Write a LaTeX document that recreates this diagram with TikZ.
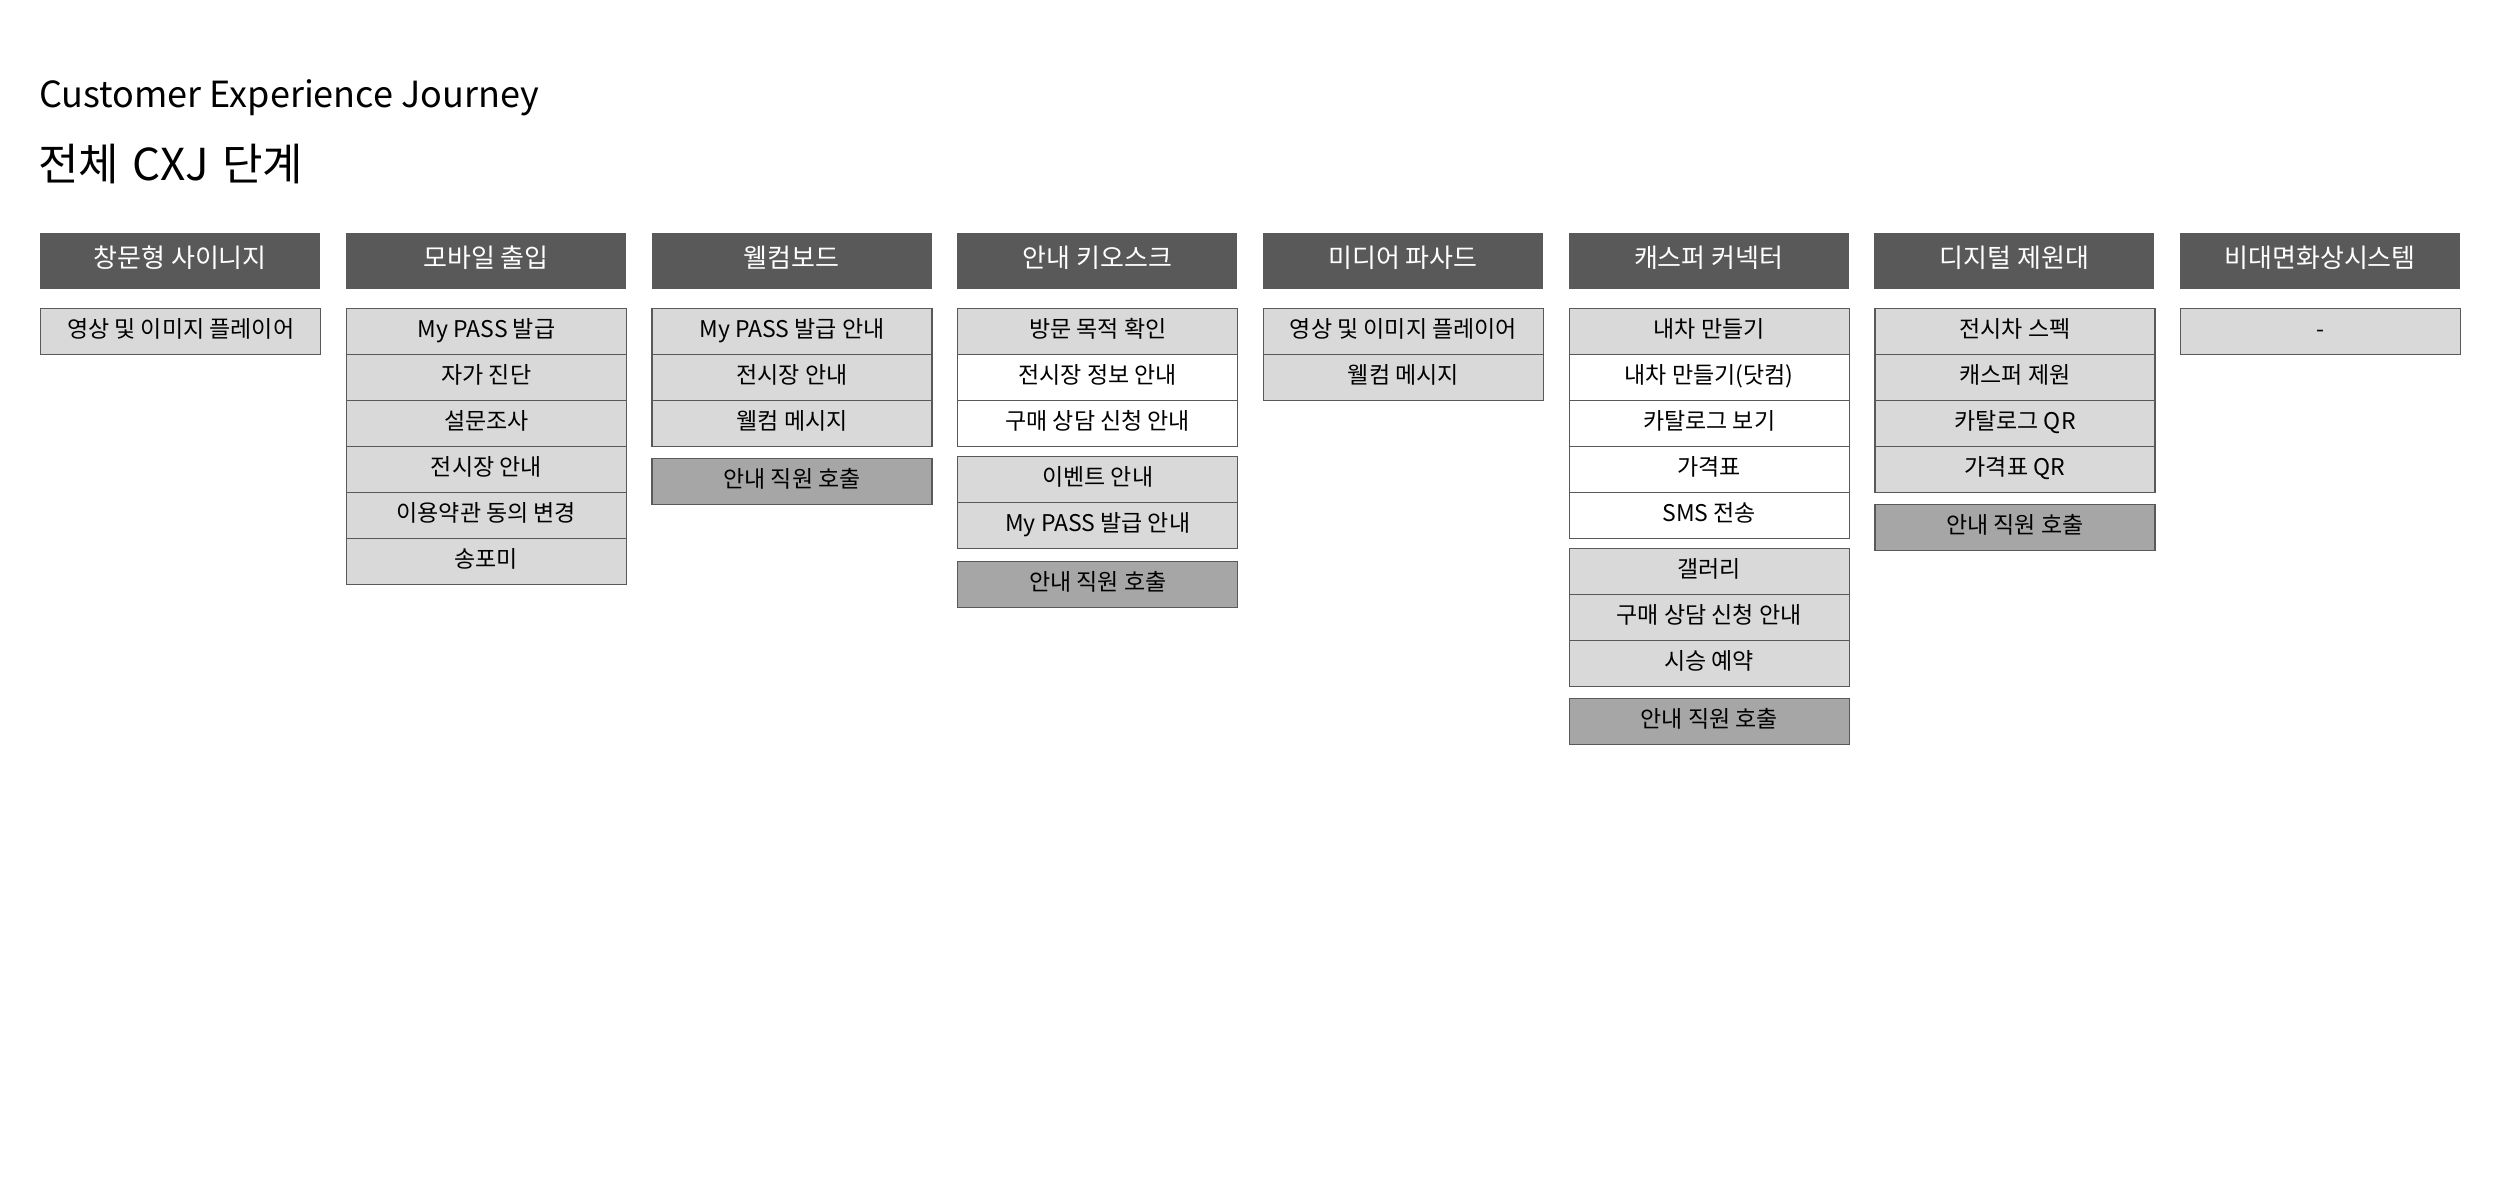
\documentclass[tikz,border=0pt]{standalone}
\usepackage{fontspec}
\setmainfont{Noto Sans CJK KR}
\definecolor{hdr}{HTML}{595959}
\definecolor{itemgray}{HTML}{D9D9D9}
\definecolor{callgray}{HTML}{A6A6A6}
\definecolor{edge}{HTML}{595959}
\tikzset{
  header/.style={anchor=north west, fill=hdr, draw=none, text=white, minimum width=280pt, minimum height=56pt, inner sep=0pt, font=\fontsize{26}{26}\selectfont, text height=1.4em, text depth=0.2em},
  itembox/.style={anchor=north west, draw=edge, line width=1.3pt, minimum width=280pt, minimum height=46pt, inner sep=0pt, font=\fontsize{23}{23}\selectfont, text height=1.3em, text depth=0.2em},
  gbox/.style={itembox, fill=itemgray},
  wbox/.style={itembox, fill=white},
  cbox/.style={itembox, fill=callgray},
}
\begin{document}
\begin{tikzpicture}[x=1pt, y=-1pt]
\useasboundingbox[fill=white] (0,0) rectangle (2500,1194);
\node[anchor=base west, inner sep=0pt, font=\fontsize{36}{36}\selectfont] (title) at (39,107) {Customer Experience Journey};
\node[anchor=base west, inner sep=0pt, font=\fontsize{44}{44}\selectfont] (subtitle) at (38,180) {전체\hskip0.3em CXJ\hskip0.3em 단계};
% headers
\node[header] (h0) at (40,233) {창문형 사이니지};
\node[header] (h1) at (345.7,233) {모바일 출입};
\node[header] (h2) at (651.4,233) {웰컴보드};
\node[header] (h3) at (957.1,233) {안내 키오스크};
\node[header] (h4) at (1262.8,233) {미디어 파사드};
\node[header] (h5) at (1568.5,233) {캐스퍼 커넥터};
\node[header] (h6) at (1874.2,233) {디지털 제원대};
\node[header] (h7) at (2179.9,233) {비대면화상시스템};
% column 0
\node[gbox] (c0a) at (40,308) {영상 및 이미지 플레이어};
% column 1
\node[gbox] (c1a) at (345.7,308) {My PASS 발급};
\node[gbox] (c1b) at (345.7,354) {자가 진단};
\node[gbox] (c1c) at (345.7,400) {설문조사};
\node[gbox] (c1d) at (345.7,446) {전시장 안내};
\node[gbox] (c1e) at (345.7,492) {이용약관 동의 변경};
\node[gbox] (c1f) at (345.7,538) {송포미};
% column 2
\node[gbox] (c2a) at (651.4,308) {My PASS 발급 안내};
\node[gbox] (c2b) at (651.4,354) {전시장 안내};
\node[gbox] (c2c) at (651.4,400) {웰컴 메시지};
\node[cbox] (c2d) at (651.4,458) {안내 직원 호출};
% column 3
\node[gbox] (c3a) at (957.1,308) {방문 목적 확인};
\node[wbox] (c3b) at (957.1,354) {전시장 정보 안내};
\node[wbox] (c3c) at (957.1,400) {구매 상담 신청 안내};
\node[gbox] (c3d) at (957.1,456) {이벤트 안내};
\node[gbox] (c3e) at (957.1,502) {My PASS 발급 안내};
\node[cbox] (c3f) at (957.1,561) {안내 직원 호출};
% column 4
\node[gbox] (c4a) at (1262.8,308) {영상 및 이미지 플레이어};
\node[gbox] (c4b) at (1262.8,354) {웰컴 메시지};
% column 5
\node[gbox] (c5a) at (1568.5,308) {내차 만들기};
\node[wbox] (c5b) at (1568.5,354) {내차 만들기(닷컴)};
\node[wbox] (c5c) at (1568.5,400) {카탈로그 보기};
\node[wbox] (c5d) at (1568.5,446) {가격표};
\node[wbox] (c5e) at (1568.5,492) {SMS 전송};
\node[gbox] (c5f) at (1568.5,548) {갤러리};
\node[gbox] (c5g) at (1568.5,594) {구매 상담 신청 안내};
\node[gbox] (c5h) at (1568.5,640) {시승 예약};
\node[cbox] (c5i) at (1568.5,698) {안내 직원 호출};
% column 6
\node[gbox] (c6a) at (1874.2,308) {전시차 스펙};
\node[gbox] (c6b) at (1874.2,354) {캐스퍼 제원};
\node[gbox] (c6c) at (1874.2,400) {카탈로그 QR};
\node[gbox] (c6d) at (1874.2,446) {가격표 QR};
\node[cbox] (c6e) at (1874.2,504) {안내 직원 호출};
% column 7
\node[gbox] (c7a) at (2179.9,308) {-};
\end{tikzpicture}
\end{document}
